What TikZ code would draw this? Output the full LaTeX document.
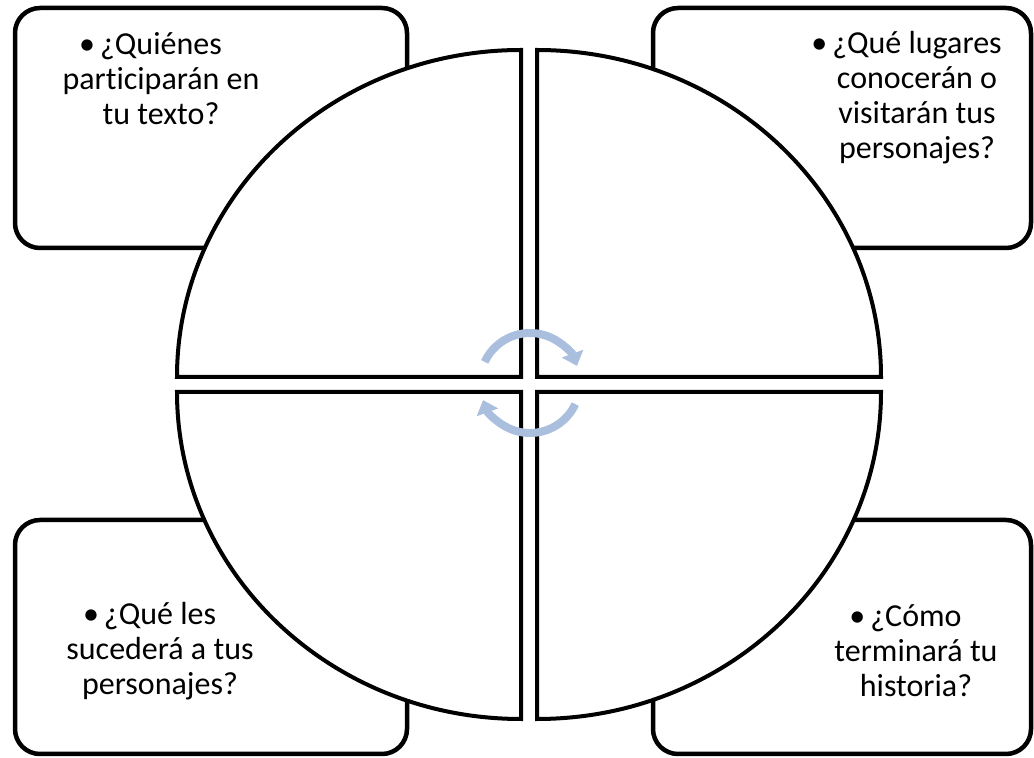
\documentclass[tikz,border=0pt]{standalone}
\usepackage{fontspec}
\setmainfont{Carlito}[Ligatures=NoCommon]
\usepackage{tikz}
\usetikzlibrary{arrows.meta}
\definecolor{flechaazul}{RGB}{170,190,222}

\begin{document}
\begin{tikzpicture}[x=1pt,y=1pt]
\tikzset{caja/.style={draw,line width=4.5pt,rounded corners=25pt,fill=white,inner sep=0pt,outer sep=0pt}}
\tikzset{cuarto/.style={draw,line width=4pt,fill=white,line join=miter}}
\tikzset{texto/.style={align=center,inner sep=0pt,font=\fontsize{32}{35}\selectfont}}
\tikzset{giro/.style={draw=flechaazul,line width=8pt,-{Triangle[width=22pt,length=13pt]}}}
\useasboundingbox (0,0) rectangle (1034,758);

% Cajas de las esquinas
\node (1) at (211,630) [caja,minimum width=392pt,minimum height=240pt] {};
\node (2) at (842,630) [caja,minimum width=378pt,minimum height=240pt] {};
\node (3) at (211,121) [caja,minimum width=392pt,minimum height=234pt] {};
\node (4) at (842,121) [caja,minimum width=378pt,minimum height=234pt] {};

% Cuartos del circulo
\draw[cuarto] (521,381) -- ++(0,327) arc[start angle=90,end angle=180,x radius=344,y radius=327] -- cycle;
\draw[cuarto] (537,381) -- ++(344,0) arc[start angle=0,end angle=90,x radius=344,y radius=327] -- cycle;
\draw[cuarto] (521,366) -- ++(-344,0) arc[start angle=180,end angle=270,x radius=344,y radius=327] -- cycle;
\draw[cuarto] (537,366) -- ++(0,-327) arc[start angle=270,end angle=360,x radius=344,y radius=327] -- cycle;

% Textos
\node (5) at (161,679) [texto] {\makebox[0pt][r]{\textbullet\hspace{5pt}}¿Quiénes\\participarán en\\tu texto?};
\node (6) at (917,660) [texto] {\makebox[0pt][r]{\textbullet\hspace{5pt}}¿Qué lugares\\conocerán o\\visitarán tus\\personajes?};
\node (7) at (160,107) [texto] {\makebox[0pt][r]{\textbullet\hspace{5pt}}¿Qué les\\sucederá a tus\\personajes?};
\node (8) at (916,107) [texto] {\makebox[0pt][r]{\textbullet\hspace{5pt}}¿Cómo\\terminará tu\\historia?};

% Flechas circulares
\coordinate (c) at (530,375);
\draw[giro] (c) ++(155:50) arc[start angle=155,end angle=20,radius=50];
\draw[giro] (c) ++(-25:50) arc[start angle=-25,end angle=-160,radius=50];

\end{tikzpicture}
\end{document}
